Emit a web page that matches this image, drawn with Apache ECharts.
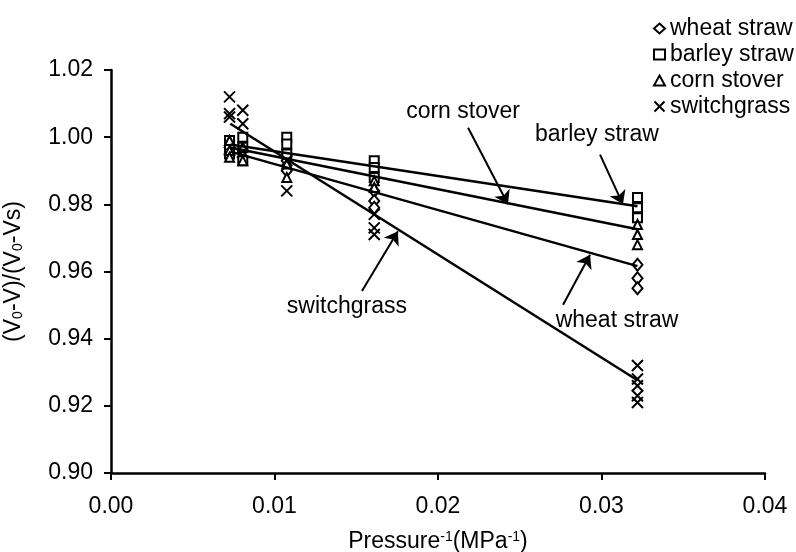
<!DOCTYPE html>
<html>
<head>
<meta charset="utf-8">
<script src="https://cdn.jsdelivr.net/npm/echarts@6/dist/echarts.min.js"></script>
<style>
  html, body { margin: 0; padding: 0; background: #fff; }
  #chart { width: 796px; height: 552px; }
</style>
</head>
<body>
<div id="chart"></div>
<script>
// pressure^-1 levels (MPa^-1)
var invPressure = [0.00725, 0.00806, 0.01075, 0.0161, 0.0322];

// replicate readings per pressure level
var wheatStraw = [[0.997, 0.995], [0.996, 0.994], [0.993, 0.990], [0.984, 0.981, 0.979], [0.962, 0.958, 0.955]];
var barleyStraw = [[0.999, 0.997, 0.995], [1.000, 0.997, 0.993], [1.000, 0.998, 0.995], [0.993, 0.991, 0.988], [0.982, 0.979, 0.976]];
var cornStover = [[0.999, 0.996, 0.994], [0.997, 0.993], [0.992, 0.988], [0.987, 0.985], [0.974, 0.971, 0.968]];
var switchgrass = [[1.012, 1.007, 1.006], [1.008, 1.004], [0.993, 0.984], [0.977, 0.973, 0.971], [0.932, 0.928, 0.926, 0.923, 0.921]];

// fitted lines: values at start and end x
var fitX = [0.0073, 0.0322];
var fitWheat = [0.9957, 0.9616];
var fitBarley = [0.9978, 0.9794];
var fitCorn = [0.9969, 0.9726];
var fitSwitch = [1.0040, 0.9276];

// annotation labels and arrows
var noteNames = ['corn stover', 'barley straw', 'wheat straw', 'switchgrass'];
var notePos = [[0.02153, 1.0076], [0.02972, 1.0007], [0.03095, 0.9453], [0.01443, 0.9495]];
var arrows = [
  [[0.02184, 1.0028], [0.02428, 0.9800]],
  [[0.02991, 0.9948], [0.03131, 0.9800]],
  [[0.02765, 0.9501], [0.02930, 0.9650]],
  [[0.01535, 0.9542], [0.01755, 0.9720]]
];

function toPoints(reps) {
  var out = [];
  for (var i = 0; i < reps.length; i++) {
    for (var j = 0; j < reps[i].length; j++) {
      out.push([invPressure[i], reps[i][j]]);
    }
  }
  return out;
}
function fitData(ys) {
  return [[fitX[0], ys[0]], [fitX[1], ys[1]]];
}

var font = '"Liberation Sans", Arial, sans-serif';
var fs = 23;
var hollow = { color: '#fff', borderColor: '#000', borderWidth: 2, opacity: 1 };

var chart = echarts.init(document.getElementById('chart'));
chart.setOption({
  animation: false,
  backgroundColor: '#fff',
  textStyle: { fontFamily: font },
  grid: { left: 111, right: 31, top: 70, bottom: 79, containLabel: false, outerBoundsMode: 'none' },
  legend: {
    orient: 'vertical',
    left: 648,
    top: 12,
    itemGap: 3,
    itemWidth: 11,
    itemHeight: 10,
    textStyle: { fontFamily: font, fontSize: fs, color: '#000' },
    data: ['wheat straw', 'barley straw', 'corn stover', 'switchgrass']
  },
  xAxis: {
    type: 'value',
    min: 0,
    max: 0.04,
    interval: 0.01,
    name: 'Pressure{sup|-1}(MPa{sup|-1})',
    nameLocation: 'middle',
    nameGap: 57,
    nameTextStyle: {
      fontFamily: font, fontSize: fs, color: '#000',
      rich: { sup: { fontFamily: font, fontSize: 14, color: '#000', verticalAlign: 'top', lineHeight: 22 } }
    },
    axisLine: { lineStyle: { color: '#000', width: 2.5 } },
    axisTick: { inside: false, length: 7, lineStyle: { color: '#000', width: 2 } },
    axisLabel: {
      fontFamily: font, fontSize: fs, color: '#000', margin: 22,
      formatter: function (v) { return v.toFixed(2); }
    },
    splitLine: { show: false }
  },
  yAxis: {
    type: 'value',
    min: 0.9,
    max: 1.02,
    interval: 0.02,
    name: '(V{sub|0}-V)/(V{sub|0}-Vs)',
    nameLocation: 'middle',
    nameRotate: 90,
    nameGap: 86,
    nameTextStyle: {
      fontFamily: font, fontSize: fs, color: '#000',
      rich: { sub: { fontFamily: font, fontSize: 14, color: '#000', verticalAlign: 'bottom', lineHeight: 22 } }
    },
    axisLine: { show: true, lineStyle: { color: '#000', width: 2.5 } },
    axisTick: { show: true, inside: false, length: 7, lineStyle: { color: '#000', width: 2 } },
    axisLabel: {
      fontFamily: font, fontSize: fs, color: '#000', margin: 18,
      formatter: function (v) { return v.toFixed(2); }
    },
    splitLine: { show: false }
  },
  series: [
    { name: 'wheat straw', type: 'scatter', symbol: 'diamond', symbolSize: [10, 12], itemStyle: hollow, data: toPoints(wheatStraw), z: 3 },
    { name: 'barley straw', type: 'scatter', symbol: 'rect', symbolSize: 9, itemStyle: hollow, data: toPoints(barleyStraw), z: 3 },
    { name: 'corn stover', type: 'scatter', symbol: 'triangle', symbolSize: 9, itemStyle: hollow, data: toPoints(cornStover), z: 3 },
    { name: 'switchgrass', type: 'scatter', symbol: 'path://M0,0L10,10M10,0L0,10', symbolSize: 11,
      itemStyle: { color: 'rgba(0,0,0,0)', borderColor: '#000', borderWidth: 2, opacity: 1 }, data: toPoints(switchgrass), z: 3 },
    { name: 'fit wheat', type: 'line', symbol: 'none', lineStyle: { color: '#000', width: 2.5 }, data: fitData(fitWheat), z: 4 },
    { name: 'fit barley', type: 'line', symbol: 'none', lineStyle: { color: '#000', width: 2.5 }, data: fitData(fitBarley), z: 4 },
    { name: 'fit corn', type: 'line', symbol: 'none', lineStyle: { color: '#000', width: 2.5 }, data: fitData(fitCorn), z: 4 },
    { name: 'fit switchgrass', type: 'line', symbol: 'none', lineStyle: { color: '#000', width: 2.5 }, data: fitData(fitSwitch), z: 4 },
    {
      name: 'arrows',
      type: 'lines',
      coordinateSystem: 'cartesian2d',
      symbol: ['none', 'arrow'],
      symbolSize: 13,
      lineStyle: { color: '#000', width: 2, opacity: 1 },
      data: arrows.map(function (a) { return { coords: a }; }),
      z: 5
    },
    {
      name: 'notes',
      type: 'scatter',
      symbolSize: 0,
      silent: true,
      itemStyle: { opacity: 1 },
      label: {
        show: true,
        position: 'inside',
        fontFamily: font,
        fontSize: fs,
        color: '#000',
        opacity: 1,
        textBorderWidth: 0,
        formatter: function (p) { return noteNames[p.dataIndex]; }
      },
      data: notePos,
      z: 6
    }
  ]
});
</script>
</body>
</html>
